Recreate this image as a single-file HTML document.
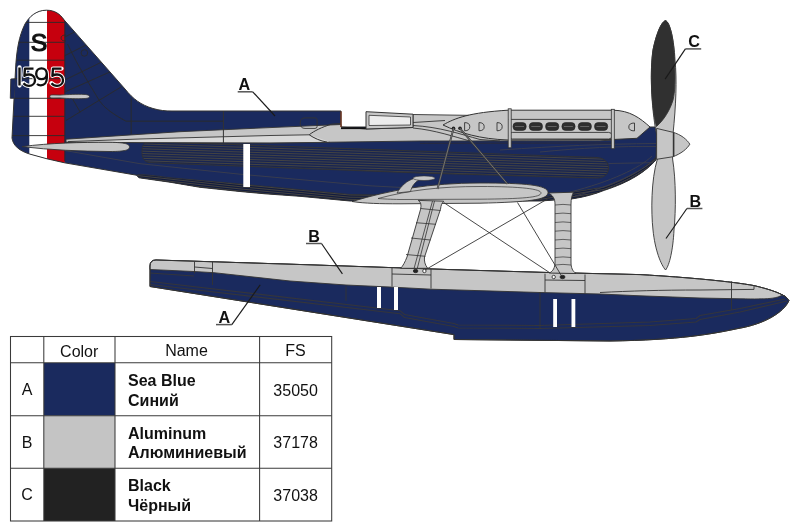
<!DOCTYPE html>
<html><head><meta charset="utf-8">
<style>
html,body{margin:0;padding:0;background:#fff;width:800px;height:532px;overflow:hidden}
svg{position:absolute;left:0;top:0;display:block;will-change:transform}
text{font-family:"Liberation Sans",sans-serif}
</style></head>
<body>
<svg width="800" height="532" viewBox="0 0 800 532">
<defs>
<pattern id="hatch" patternUnits="userSpaceOnUse" width="7" height="2.3" patternTransform="rotate(2)">
<rect width="7" height="2.3" fill="#1a2a5e"/>
<line x1="0" y1="1.15" x2="6.2" y2="1.15" stroke="#34363f" stroke-width="1.1"/>
</pattern>
</defs>
<path d="M150,266 Q150,260 156,260 L220,262 L300,264.5 L450,269.6 L540,272.3 L640,274.6 C690,277.5 731,281.5 754,285.6 C768,289 778,292 786,296.9 L789,300.5 C784,312 765,324 738,328.5 C712,334 680,340 610,341 L454,339.5 L454,334.6 L150,286.5 Z" fill="#1a2a5e" stroke="#333" stroke-width="1" stroke-linejoin="round"/>
<path d="M150,269.5 L150,266 Q150,260 156,260 L220,262 L300,264.5 L450,269.6 L540,272.3 L640,274.6 C690,277.5 731,281.5 754,285.6 C768,289 778,292 786,296.9 L782.5,295 C776,298.5 770,299.4 740,298.8 L700,298 L640,295.8 L600,294 L540,292.5 L431,289.2 L390,287 L346,285 L290,281 L214,272.7 L194,271.5 Z" fill="#c6c6c6" stroke="#333" stroke-width="0.9" stroke-linejoin="round"/>
<path d="M150,266 Q150,260 156,260 L220,262 L300,264.5 L450,269.6 L540,272.3 L640,274.6 C690,277.5 731,281.5 754,285.6 C768,289 778,292 786,296.9 L789,300.5 C784,312 765,324 738,328.5 C712,334 680,340 610,341 L454,339.5 L454,334.6 L150,286.5 Z" fill="none" stroke="#333" stroke-width="1"/>
<g stroke="#333" stroke-width="0.9" fill="none">
<path d="M194.5,261.5 L194.5,273.5 M212.5,262 L212.5,285 M194.5,267 L212.5,268.5"/>
<path d="M346,286.5 L346,301"/>
<path d="M392,268 L392,286.5 M431,269 L431,288.5 M392,274 L431,275"/>
<path d="M545,273.7 L545,292.5 M585,274.5 L585,293.5 M545,280 L585,280.5"/>
<path d="M540,292.5 L540,328"/>
<path d="M731.5,281.4 L731.5,310"/>
<path d="M600,292.5 C630,291 660,290 700,290 L754,289.4 L754,285.6"/>
</g>
<g stroke="#34353c" stroke-width="1.1" fill="none">
<path d="M150,273 L194,276"/>

<path d="M150,281.5 L400,310.7 L404.5,314.5 L454,323.5 L458,325 L540,325.5 L650,322 L696,318.5 L700,315.5 L740,308.5 L785,299"/>
<path d="M150,284.5 L400,313.7 L404.5,317.5 L454,326.5 L458,328 L540,328.5 L650,325.5 L696,322 L700,319.5 L740,312 L787,301"/>
</g>
<g fill="#fff">
<rect x="377" y="287" width="4" height="21"/>
<rect x="394" y="287" width="4" height="23"/>
<rect x="553.2" y="299" width="3.8" height="28"/>
<rect x="571.5" y="299" width="3.8" height="28"/>
</g>
<clipPath id="fc"><path d="M46.4,10.2 C55,10.2 60,14 64.2,20 L125,89 C133,99 141,105 153,108.5 C160,110.5 165,111 172,111 L341,111 L341,127 L657,127 L656,160 C645,172 630,182 604.4,190.3 C595,194 585,197 572.5,198.8 L540,201 L350,201 L300,196.3 L265,193.8 L240,191.5 L200,187.3 L170,182.2 L139,177.8 L136.5,175.2 L64.5,162.8 L47,158.8 L29.5,154 C20,151 13,146 12,138 L15.5,70 C16.5,50 19,36 25,24 C29,17 36,10.2 46.4,10.2 Z"/></clipPath>
<path d="M46.4,10.2 C55,10.2 60,14 64.2,20 L125,89 C133,99 141,105 153,108.5 C160,110.5 165,111 172,111 L341,111 L341,127 L657,127 L656,160 C645,172 630,182 604.4,190.3 C595,194 585,197 572.5,198.8 L540,201 L350,201 L300,196.3 L265,193.8 L240,191.5 L200,187.3 L170,182.2 L139,177.8 L136.5,175.2 L64.5,162.8 L47,158.8 L29.5,154 C20,151 13,146 12,138 L15.5,70 C16.5,50 19,36 25,24 C29,17 36,10.2 46.4,10.2 Z" fill="#1a2a5e"/>
<g clip-path="url(#fc)">
<clipPath id="radc"><path d="M150,141.5 L597,157.5 C604,158 608.5,162 608.5,168 C608.5,174 604,178 597,178 L420,173 L150,162.6 C144,162 142,158 142,152 C142,145 144,141.8 150,141.5 Z"/></clipPath>
<path d="M150,141.5 L597,157.5 C604,158 608.5,162 608.5,168 C608.5,174 604,178 597,178 L420,173 L150,162.6 C144,162 142,158 142,152 C142,145 144,141.8 150,141.5 Z" fill="#182552"/>
<g clip-path="url(#radc)" stroke="#4a4741" stroke-width="0.9" fill="none">
<path d="M138,139.0 L615,154.7 M138,141.4 L615,157.1 M138,143.8 L615,159.5 M138,146.2 L615,161.9 M138,148.6 L615,164.3 M138,151.0 L615,166.7 M138,153.4 L615,169.1 M138,155.8 L615,171.5 M138,158.2 L615,173.9 M138,160.6 L615,176.3 M138,163.0 L615,178.7 M138,165.4 L615,181.1 M138,167.8 L615,183.5 M138,170.2 L615,185.9 M138,172.6 L615,188.3 M138,175.0 L615,190.7 "/>
</g>
<path d="M150,141.5 L597,157.5 C604,158 608.5,162 608.5,168 C608.5,174 604,178 597,178 L420,173 L150,162.6 C144,162 142,158 142,152 C142,145 144,141.8 150,141.5 Z" fill="none" stroke="#333" stroke-width="0.9"/>
<clipPath id="lowc"><path d="M136.5,175.2 C140,174 150,175 170,177.8 L240,184 L350,194.5 L540,197.5 L604,187 C630,178 648,166 657,156 L662,172 L600,202 L350,206 L230,196 L130,181 Z"/></clipPath>
<path d="M136.5,175.2 C140,174 150,175 170,177.8 L240,184 L350,194.5 L540,197.5 L604,187 C630,178 648,166 657,156 L662,172 L600,202 L350,206 L230,196 L130,181 Z" fill="#131c3e" stroke="#333" stroke-width="0.8"/>
<g clip-path="url(#lowc)" stroke="#4a4741" stroke-width="0.9" fill="none">
<path d="M120,171.5 L240,184.5 L350,195.0 L540,197.0 M120,173.7 L240,186.7 L350,197.2 L540,199.2 M120,175.9 L240,188.9 L350,199.4 L540,201.4 M120,178.1 L240,191.1 L350,201.6 L540,203.6 M120,180.3 L240,193.3 L350,203.8 L540,205.8 M120,182.5 L240,195.5 L350,206.0 L540,208.0 M540,197.0 L604,187.0 C630,178.0 648,166.0 662,154.0 M540,199.4 L604,189.4 C630,180.4 648,168.4 662,156.4 M540,201.8 L604,191.8 C630,182.8 648,170.8 662,158.8 M540,204.2 L604,194.2 C630,185.2 648,173.2 662,161.2 M540,206.6 L604,196.6 C630,187.6 648,175.6 662,163.6 "/>
</g>
<path d="M64.8,150.5 L140,163.7 L240,174.2 L370,185.8 L430,189 M570,192 C610,182 640,168 652,156 M575,196 C612,186 640,172 655,160 M608.5,163.5 L657,162.6 M500,150 C560,146 600,144 657,143.5 M540,152 C580,148 620,146 657,146.5" stroke="#3c3e4c" stroke-width="0.9" fill="none"/>
<rect x="29.3" y="0" width="17.7" height="175" fill="#fff"/>
<rect x="47" y="0" width="17.8" height="175" fill="#c6000e"/>
<g stroke="#2a2a2a" stroke-width="0.9" fill="none">
<path d="M10,22.4 L64.8,22.4"/>
<path d="M10,42.3 L64.8,42.3"/>
<path d="M10,60.2 L64.8,60.2"/>
<path d="M10,78.7 L64.8,78.7"/>
<path d="M10,98.3 L64.8,98.3"/>
<path d="M10,116.3 L64.8,116.3"/>
<path d="M10,135.6 L64.8,135.6"/>
<path d="M64.8,19 L64.8,161"/>
<path d="M64.8,37 L90,24 M64.8,55.7 L96,40 M64.8,80 L112,57 M66,120.5 L121.5,86.7 M64.8,92 L112,71 M71.2,96.5 L80.2,112.2"/>
<path d="M67.5,44 C80,70 90,85 99,100 C103,106 109,112 126,121.2 L223.4,121.2"/>
<path d="M131.2,98 L131.2,134"/>
<circle cx="84.4" cy="52.9" r="3.3"/><path d="M66,35 Q61,35 61,38 Q61,41 66,41"/>
</g>
</g>
<path d="M46.4,10.2 C55,10.2 60,14 64.2,20 L125,89 C133,99 141,105 153,108.5 C160,110.5 165,111 172,111 L341,111 L341,127 L657,127 L656,160 C645,172 630,182 604.4,190.3 C595,194 585,197 572.5,198.8 L540,201 L350,201 L300,196.3 L265,193.8 L240,191.5 L200,187.3 L170,182.2 L139,177.8 L136.5,175.2 L64.5,162.8 L47,158.8 L29.5,154 C20,151 13,146 12,138 L15.5,70 C16.5,50 19,36 25,24 C29,17 36,10.2 46.4,10.2 Z" fill="none" stroke="#333" stroke-width="1" stroke-linejoin="round"/>
<rect x="243.3" y="144" width="6.7" height="43" fill="#fff"/>
<path d="M15.2,78.7 L10.8,79 L10.3,98.3 L14.2,98.3" fill="#1a2a5e" stroke="#333" stroke-width="0.9"/>
<path d="M49.8,96.4 C49.8,95.2 51,94.9 53,94.9 L60,95.1 C68,94.4 78,94.2 84,94.4 C88,94.6 89.5,95.5 89.5,96.5 C89.5,97.6 88,98.4 84,98.6 C78,98.8 68,98.6 60,97.9 L53,98 C51,98 49.8,97.6 49.8,96.4 Z" fill="#c6c6c6" stroke="#333" stroke-width="0.8"/>
<path d="M66,139.2 L180,131.7 L270,127.6 L341,124.5 L341,127 L366,129 L413,127.5 L413,114.5 L480,115.5 L613,111 L613,140 L600,140.8 L420,141 L270,143 L140,142.6 L66,142.3 Z" fill="#c6c6c6" stroke="#333" stroke-width="0.9" stroke-linejoin="round"/>
<path d="M140,142.2 L270,142.6 L330,142 L309.2,134.8 L270,135.5 L140,139 L68,141.6 Z" fill="#d9d9d9"/>
<path d="M68,141.6 L140,139 L270,135.5 L309.2,134.8" fill="none" stroke="#333" stroke-width="0.9"/>
<path d="M66,142.3 L140,142.6 L270,143 L330,142.3" fill="none" stroke="#333" stroke-width="0.8"/>
<path d="M223.4,111 L223.4,143" fill="none" stroke="#333" stroke-width="1"/>
<path d="M341,123.5 L331.7,124.1 C322,127 314,131 309.2,134.8 C314,138 320,141 327.2,142.1" fill="none" stroke="#333" stroke-width="1"/>
<path d="M305,117.9 L315,117.9 Q317.1,117.9 317.1,120 L317.1,126.5 Q317.1,128.4 315,128.4 L305,128.4 Q300.2,128.4 300.2,123.2 Q300.2,117.9 305,117.9 Z" fill="none" stroke="#333" stroke-width="0.9"/>
<path d="M420,143.3 L613,143" fill="none" stroke="#2a2a3a" stroke-width="1"/>
<path d="M22,146.6 C50,143 80,142.2 110,142.3 C125,142.5 129.5,144 129.5,147 C129.5,150 125,151.5 110,151.5 C80,151.3 50,150 22,146.6 Z" fill="#c6c6c6" stroke="#333" stroke-width="0.9"/>
<path d="M341,111.5 L341,127" stroke="#7a3a20" stroke-width="1.3"/>
<path d="M341,128.2 L366,128.2" stroke="#111" stroke-width="1.8"/>
<path d="M366,111.7 L413,114.2 L413,127.5 L366,129 Z" fill="#c6c6c6" stroke="#333" stroke-width="1"/>
<path d="M369,115.3 L410.5,117 L410.5,125 L369,125.5 Z" fill="#ececec" stroke="#333" stroke-width="0.8"/>
<path d="M413,122.5 L445,120.5 M413,125.5 C440,127 460,134 480,139.5 L500,141 M413,128 C435,130 455,137 470,141" fill="none" stroke="#333" stroke-width="0.9"/>
<path d="M443,125 C455,118 470,112.5 508,110.2 L613,110.2 C630,110.5 640,118 650,127 L637,138.3 L613,139.5 L508,140 C480,139 460,133 443,125 Z" fill="#c6c6c6" stroke="#333" stroke-width="1"/>
<path d="M508,119.4 L613,119.4" stroke="#333" stroke-width="0.9"/>
<rect x="509" y="132.4" width="103" height="6.6" rx="3.3" fill="#c6c6c6" stroke="#333" stroke-width="0.9"/>
<rect x="513.0" y="122.6" width="13.2" height="7.8" rx="3.6" fill="#2e2e2e" stroke="#222" stroke-width="0.6"/>
<path d="M515.0,126.5 L524.0,126.5" stroke="#777" stroke-width="0.7"/>
<rect x="529.3" y="122.6" width="13.2" height="7.8" rx="3.6" fill="#2e2e2e" stroke="#222" stroke-width="0.6"/>
<path d="M531.3,126.5 L540.3,126.5" stroke="#777" stroke-width="0.7"/>
<rect x="545.6" y="122.6" width="13.2" height="7.8" rx="3.6" fill="#2e2e2e" stroke="#222" stroke-width="0.6"/>
<path d="M547.6,126.5 L556.6,126.5" stroke="#777" stroke-width="0.7"/>
<rect x="561.9" y="122.6" width="13.2" height="7.8" rx="3.6" fill="#2e2e2e" stroke="#222" stroke-width="0.6"/>
<path d="M563.9,126.5 L572.9,126.5" stroke="#777" stroke-width="0.7"/>
<rect x="578.2" y="122.6" width="13.2" height="7.8" rx="3.6" fill="#2e2e2e" stroke="#222" stroke-width="0.6"/>
<path d="M580.2,126.5 L589.2,126.5" stroke="#777" stroke-width="0.7"/>
<rect x="594.5" y="122.6" width="13.2" height="7.8" rx="3.6" fill="#2e2e2e" stroke="#222" stroke-width="0.6"/>
<path d="M596.5,126.5 L605.5,126.5" stroke="#777" stroke-width="0.7"/>
<rect x="508.2" y="108.8" width="3" height="39" fill="#c6c6c6" stroke="#333" stroke-width="0.8"/>
<rect x="611.3" y="109.3" width="3" height="39.4" fill="#c6c6c6" stroke="#333" stroke-width="0.8"/>
<path d="M464.6,122.6 Q469.8,122.6 469.8,126.7 Q469.8,130.8 464.6,130.8 Z" fill="none" stroke="#333" stroke-width="0.9"/>
<path d="M479,122.6 Q484.2,122.6 484.2,126.7 Q484.2,130.8 479,130.8 Z" fill="none" stroke="#333" stroke-width="0.9"/>
<path d="M497,122.6 Q502.2,122.6 502.2,126.7 Q502.2,130.8 497,130.8 Z" fill="none" stroke="#333" stroke-width="0.9"/>
<path d="M634.5,123 Q628.8,123 628.8,127 Q628.8,130.9 634.5,130.9 Z" fill="none" stroke="#333" stroke-width="0.9"/>
<circle cx="453.5" cy="128.2" r="1.8" fill="#222"/><circle cx="460" cy="128.2" r="1.8" fill="#222"/>
<g stroke="#333" stroke-width="0.9">
<path d="M352,201.5 C390,190 430,183 480,183 C525,183 548,185 548,192.5 C548,200 528,202 480,203.2 L400,203.8 C380,203.8 365,203.5 352,201.5 Z" fill="#c6c6c6"/>
<path d="M378,198.5 C410,190 440,186.5 480,186.5 C522,186.5 541,189 541,193 C541,197.5 522,198.8 480,199.2 L400,199.5 C390,199.3 384,199 378,198.5 Z" fill="#c6c6c6" stroke-width="0.7"/>
<path d="M397,193 C401,186 407,180.5 414,178.5 L421,179 C415,181.5 412,186 410.5,191.5 Z" fill="#c6c6c6" stroke-width="0.8"/>
<ellipse cx="424" cy="178.2" rx="11" ry="2.3" fill="#c6c6c6" stroke-width="0.6"/>
</g>
<path d="M437.5,189 L453.6,128.3 M507.5,184 L460,128.3" stroke="#3a3a3a" stroke-width="1.9" fill="none"/>
<path d="M437.5,189 L453.6,128.3 M507.5,184 L460,128.3" stroke="#8a8a8a" stroke-width="0.7" fill="none"/>
<g stroke="#333" stroke-width="0.9" stroke-linejoin="round">
<path d="M548,193 C553,195 555,199 555,204 L555,262 C555,268 553,271 549.5,273 L576,273.5 C572.5,271 571,268 571,262 L571,204 C571,199 572,195 573.5,192.2 Z" fill="#c6c6c6"/>
<g fill="none" stroke-width="0.7">
<path d="M555,205 Q563,203.8 571,205"/>
<path d="M555,213.7 Q563,212.5 571,213.7"/>
<path d="M555,222.5 Q563,221.3 571,222.5"/>
<path d="M555,231.2 Q563,230.0 571,231.2"/>
<path d="M555,240 Q563,238.8 571,240"/>
<path d="M555,248.7 Q563,247.5 571,248.7"/>
<path d="M555,257.5 Q563,256.3 571,257.5"/>
<path d="M555,265 Q563,263.8 571,265"/>
</g></g>
<g stroke="#333" stroke-width="0.9" stroke-linejoin="round">
<path d="M418.2,200.4 C421,202 421.5,205 420.6,209.2 L407,257 C405,262 403,266 400.6,268.3 L427.7,268.3 C425,265 424,261 424.5,257 L440.5,209.2 C441,205 442,203 443.7,201.2 Z" fill="#c6c6c6"/>
<path d="M432.5,201 L414.2,268 M434.5,201 L417.4,268" fill="none" stroke-width="0.8"/>
<path d="M420.6,208.5 L440.5,210.5 M416,222.7 L436,224.3 M411,238 L430.5,240 M406,254.5 L425.5,256.3" fill="none" stroke-width="0.8"/>
</g>
<g stroke="#222" stroke-width="0.8">
<ellipse cx="415.6" cy="271" rx="2.3" ry="1.7" fill="#222"/>
<circle cx="424.4" cy="271" r="1.7" fill="#fff"/>
<circle cx="553.7" cy="277" r="1.7" fill="#fff"/>
<ellipse cx="562.5" cy="277" rx="2.5" ry="1.7" fill="#222"/>
</g>
<g stroke="#333" stroke-width="0.9" fill="none">
<path d="M443.7,202.5 L549.4,272.5"/>
<path d="M550,197.5 L425,270"/>
<path d="M517.5,202.5 L561,275"/>
</g>
<g stroke="#333" stroke-width="0.9">
<path d="M657.6,154 L657.4,159 C651,180 651,212 653,230 C655,250 661,265 665.6,270 C669.5,265 673,250 674,230 C676,210 676,180 672.6,159 L672.6,154 Z" fill="#c6c6c6"/>
<path d="M656.4,134 C651,105 650,70 653,50 C656,35 661,22 665.5,20.6 C670,22 674,40 675,60 C677,80 676,105 673,134 Z" fill="#c6c6c6"/>
<path d="M656.4,126.5 C651,105 650,70 653,50 C656,35 661,22 665.5,20.6 C670,22 674,40 674.5,60 C675.5,80 675,92 673,100 C670,110 664,120 656.4,126.5 Z" fill="#303030"/>
<path d="M656.6,128.4 L672.6,132.2 C681,134.5 687,139.5 689.8,144.2 C687,149 681,153.8 672.6,156.8 L656.6,159.3 Z" fill="#c6c6c6"/>
<path d="M673.6,132.5 L673.6,156.5" fill="none" stroke-width="1.6"/>
</g>
<text x="238.6" y="90.4" font-size="16.2" font-weight="bold" fill="#111">A</text>
<path d="M237.7,91.8 L252.7,91.8" stroke="#555" stroke-width="1.5" fill="none"/>
<path d="M252.7,91.8 L275,116" stroke="#1a1a1a" stroke-width="1.15" fill="none"/>
<text x="688.2" y="47.3" font-size="16.2" font-weight="bold" fill="#111">C</text>
<path d="M685.4,48.9 L701.2,48.9" stroke="#555" stroke-width="1.5" fill="none"/>
<path d="M685.4,48.9 L665.1,79.1" stroke="#1a1a1a" stroke-width="1.15" fill="none"/>
<text x="689.5" y="207.3" font-size="16.2" font-weight="bold" fill="#111">B</text>
<path d="M686.9,208.5 L702.4,208.5" stroke="#555" stroke-width="1.5" fill="none"/>
<path d="M686.9,208.5 L666,238.5" stroke="#1a1a1a" stroke-width="1.15" fill="none"/>
<text x="308.3" y="242.3" font-size="16.2" font-weight="bold" fill="#111">B</text>
<path d="M306,243.5 L321.5,243.5" stroke="#555" stroke-width="1.5" fill="none"/>
<path d="M321.5,243.5 L342.4,273.9" stroke="#1a1a1a" stroke-width="1.15" fill="none"/>
<text x="218.6" y="323" font-size="16.2" font-weight="bold" fill="#111">A</text>
<path d="M216,324.6 L231.8,324.6" stroke="#555" stroke-width="1.5" fill="none"/>
<path d="M231.8,324.6 L260.2,284.9" stroke="#1a1a1a" stroke-width="1.15" fill="none"/>
<text x="38.9" y="51.1" font-size="24.8" fill="#111" stroke="#111" stroke-width="1.15" text-anchor="middle">S</text>
<path d="M19.5,67.5 L19.5,85.6 M33.5,68.6 L25,68.6 L24.4,75.8 C26,74.8 27.5,74.5 29,74.5 C32.5,74.5 35,77 35,80.2 C35,83.5 32.3,85.8 29,85.8 C26.8,85.8 24.8,84.8 23.5,83.2 M46.8,73.7 C46.8,76.8 44.5,79.1 41.5,79.1 C38.5,79.1 36.2,76.8 36.2,73.7 C36.2,70.6 38.5,68.3 41.5,68.3 C44.5,68.3 46.8,70.6 46.8,73.7 L46.8,78 C46.8,82.5 44.5,85.4 40.8,85.4 C39.3,85.4 38,84.9 37,84 M61.5,68.6 L53,68.6 L52.4,75.8 C54,74.8 55.5,74.5 57,74.5 C60.5,74.5 63,77 63,80.2 C63,83.5 60.3,85.8 57,85.8 C54.8,85.8 52.8,84.8 51.5,83.2" fill="none" stroke="#fff" stroke-width="4.3" stroke-linejoin="round" stroke-linecap="round"/>
<path d="M19.5,67.5 L19.5,85.6 M33.5,68.6 L25,68.6 L24.4,75.8 C26,74.8 27.5,74.5 29,74.5 C32.5,74.5 35,77 35,80.2 C35,83.5 32.3,85.8 29,85.8 C26.8,85.8 24.8,84.8 23.5,83.2 M46.8,73.7 C46.8,76.8 44.5,79.1 41.5,79.1 C38.5,79.1 36.2,76.8 36.2,73.7 C36.2,70.6 38.5,68.3 41.5,68.3 C44.5,68.3 46.8,70.6 46.8,73.7 L46.8,78 C46.8,82.5 44.5,85.4 40.8,85.4 C39.3,85.4 38,84.9 37,84 M61.5,68.6 L53,68.6 L52.4,75.8 C54,74.8 55.5,74.5 57,74.5 C60.5,74.5 63,77 63,80.2 C63,83.5 60.3,85.8 57,85.8 C54.8,85.8 52.8,84.8 51.5,83.2" fill="none" stroke="#111" stroke-width="2.35" stroke-linejoin="round"/>
<rect x="44" y="363" width="71" height="52.7" fill="#1a2a5e"/>
<rect x="44" y="415.7" width="71" height="52.6" fill="#c4c4c4"/>
<rect x="44" y="468.3" width="71" height="52.7" fill="#222"/>
<g stroke="#3a3a3a" stroke-width="1.05" fill="none">
<rect x="10.5" y="336.5" width="321.2" height="184.5"/>
<path d="M43.8,336.5 L43.8,521"/>
<path d="M115,336.5 L115,521"/>
<path d="M259.6,336.5 L259.6,521"/>
<path d="M10.5,362.7 L331.7,362.7"/>
<path d="M10.5,415.8 L331.7,415.8"/>
<path d="M10.5,468.3 L331.7,468.3"/>
</g>
<g font-size="16" fill="#111" text-anchor="middle">
<text x="79.2" y="356.5">Color</text><text x="186.5" y="356.2">Name</text><text x="295.5" y="356">FS</text>
<text x="27" y="395">A</text><text x="27" y="447.7">B</text><text x="27" y="500.4">C</text>
<text x="295.6" y="395.5">35050</text><text x="295.6" y="448.2">37178</text><text x="295.6" y="500.9">37038</text>
</g>
<g font-size="16" font-weight="bold" fill="#111">
<text x="128" y="385.5">Sea Blue</text><text x="128" y="405.5">Синий</text>
<text x="128" y="438.7">Aluminum</text><text x="128" y="458">Алюминиевый</text>
<text x="128" y="491.2">Black</text><text x="128" y="510.9">Чёрный</text>
</g>
</svg>
</body></html>
